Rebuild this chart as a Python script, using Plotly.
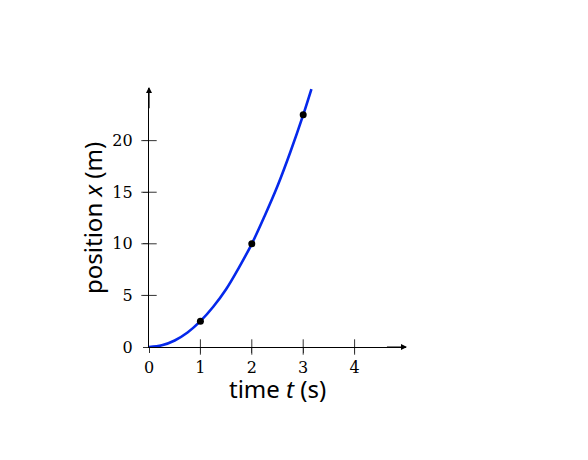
import plotly.graph_objects as go

# curve: time (s) vs position (m)
time_s = [0, 0.25, 0.5, 0.75, 1, 1.25, 1.5, 1.75, 2, 2.25, 2.5, 2.75, 3, 3.16]
position_m = [0, 0.16, 0.63, 1.4, 2.5, 3.9, 5.6, 7.7, 10, 12.7, 15.6, 18.9, 22.5, 25.0]

# marked samples
dot_t = [1, 2, 3]
dot_x = [2.5, 10, 22.5]

x_ticks = [0, 1, 2, 3, 4]
y_ticks = [0, 5, 10, 15, 20]

tick_font = dict(family="DejaVu Serif", size=16, color="black")
title_font = dict(family="Noto Sans", size=24, color="black")

fig = go.Figure()

# tick marks crossing the axes
fig.add_trace(go.Scatter(
    x=x_ticks[1:], y=[0] * (len(x_ticks) - 1), mode="markers",
    marker=dict(symbol="line-ns", size=11, line=dict(color="#333", width=1)),
    hoverinfo="skip", cliponaxis=False, showlegend=False))
fig.add_trace(go.Scatter(
    x=[0] * (len(y_ticks) - 1), y=y_ticks[1:], mode="markers",
    marker=dict(symbol="line-ew", size=11, line=dict(color="#333", width=1)),
    hoverinfo="skip", cliponaxis=False, showlegend=False))

fig.add_trace(go.Scatter(
    x=time_s, y=position_m, mode="lines",
    line=dict(color="rgb(5,40,235)", width=2.6, shape="spline"),
    showlegend=False))
fig.add_trace(go.Scatter(
    x=dot_t, y=dot_x, mode="markers",
    marker=dict(color="black", size=7),
    cliponaxis=False, showlegend=False))

# arrow heads at axis ends
fig.add_annotation(x=5.02, y=0, ax=4.6, ay=0, xref="x", yref="y",
                   axref="x", ayref="y", showarrow=True, arrowhead=2,
                   arrowsize=1, arrowwidth=1.2, arrowcolor="black", text="")
fig.add_annotation(x=0, y=25.2, ax=0, ay=23, xref="x", yref="y",
                   axref="x", ayref="y", showarrow=True, arrowhead=2,
                   arrowsize=1, arrowwidth=1.2, arrowcolor="black", text="")

# axis titles
fig.add_annotation(x=0.5, y=-0.16, xref="paper", yref="paper",
                   text="time <i>t</i> (s)", showarrow=False,
                   font=title_font, xanchor="center", yanchor="middle")
fig.add_annotation(x=-0.22, y=0.5, xref="paper", yref="paper",
                   text="position <i>x</i> (m)", showarrow=False, textangle=-90,
                   font=title_font, xanchor="center", yanchor="middle")

fig.update_xaxes(
    range=[0, 5], tickvals=x_ticks, ticks="outside", ticklen=5,
    tickcolor="#333", tickfont=tick_font, showgrid=False, zeroline=False,
    showline=True, linecolor="black", linewidth=1.2, automargin=False,
    ticklabelstandoff=1)
fig.update_yaxes(
    range=[0, 25.1], tickvals=y_ticks, ticks="outside", ticklen=5,
    tickcolor="#333", tickfont=tick_font, showgrid=False, zeroline=False,
    showline=True, linecolor="black", linewidth=1.2, automargin=False,
    ticklabelstandoff=7)

fig.update_layout(
    width=588, height=460,
    margin=dict(l=141, r=190, t=80, b=121),
    plot_bgcolor="white", paper_bgcolor="white")

fig.write_html("out.html")
